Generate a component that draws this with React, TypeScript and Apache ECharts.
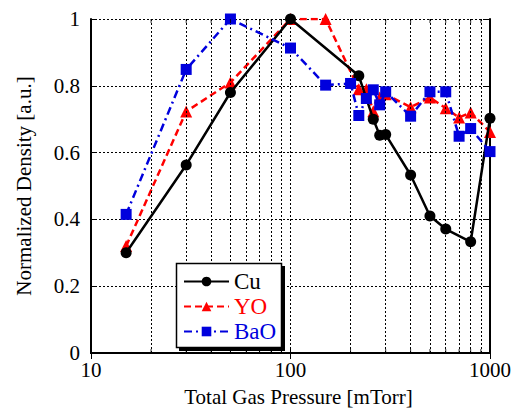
import React, { useEffect, useRef } from "react";
import * as echarts from "echarts";

const pressureCu = [15, 30, 50, 100, 220, 260, 280, 300, 400, 500, 600, 800, 1000];
const densityCu = [0.3, 0.563, 0.78, 1.0, 0.83, 0.7, 0.652, 0.654, 0.533, 0.41, 0.371, 0.333, 0.703];

const pressureYO = [15, 30, 50, 100, 150, 220, 240, 260, 280, 300, 400, 500, 600, 700, 800, 1000];
const densityYO = [0.32, 0.723, 0.81, 1.0, 1.0, 0.79, 0.79, 0.724, 0.765, 0.775, 0.736, 0.765, 0.733, 0.705, 0.72, 0.662];

const pressureBaO = [15, 30, 50, 100, 150, 200, 220, 240, 260, 280, 300, 400, 500, 600, 700, 800, 1000];
const densityBaO = [0.415, 0.849, 1.0, 0.913, 0.802, 0.807, 0.711, 0.762, 0.788, 0.743, 0.782, 0.709, 0.782, 0.782, 0.649, 0.672, 0.603];

const minorGridX = [20, 30, 40, 50, 60, 70, 80, 90, 200, 300, 400, 500, 600, 700, 800, 900];

const seriesNames = ["Cu", "YO", "BaO"];
const seriesColors = ["#000000", "#ff0000", "#0000dd"];

const FONT = "Liberation Serif";

function zip(xs: number[], ys: number[]) {
  return xs.map((x, i) => [x, ys[i]]);
}

export default function App() {
  const ref = useRef<HTMLDivElement>(null);
  useEffect(() => {
    if (!ref.current) return;
    const chart = echarts.init(ref.current, null, { renderer: "svg" });
    const gridDash = { color: "#000", width: 1, type: [2, 2] as any };
    const option: any = {
      animation: false,
      backgroundColor: "#fff",
      grid: { left: 91, right: 23, top: 19, bottom: 55, containLabel: false },
      graphic: [
        {
          type: "rect",
          z: 5,
          shape: { x: 179, y: 266, width: 106, height: 85 },
          style: { fill: "#000" },
        },
        {
          type: "rect",
          z: 6,
          shape: { x: 176.5, y: 263.5, width: 105, height: 84 },
          style: { fill: "#fff", stroke: "#000", lineWidth: 1.5 },
        },
      ],
      xAxis: [
        {
          type: "log",
          logBase: 10,
          min: 10,
          max: 1000,
          name: "Total Gas Pressure [mTorr]",
          nameLocation: "middle",
          nameGap: 33,
          nameTextStyle: { fontFamily: FONT, fontSize: 21, color: "#000", padding: [0, 0, 0, 16] },
          axisLine: { show: true, lineStyle: { color: "#000", width: 2 } },
          axisTick: { show: true, inside: true, length: 6, lineStyle: { color: "#000", width: 1 } },
          axisLabel: {
            fontFamily: FONT,
            fontSize: 21,
            color: "#000",
            margin: 6,
            formatter: (v: number) => String(Math.round(v)),
          },
          splitLine: { show: true, lineStyle: gridDash },
        },
        {
          type: "log",
          logBase: 10,
          min: 10,
          max: 1000,
          position: "top",
          axisLine: { show: true, lineStyle: { color: "#000", width: 2 } },
          axisTick: { show: true, inside: true, length: 6, lineStyle: { color: "#000", width: 1 } },
          axisLabel: { show: false },
          splitLine: { show: false },
        },
      ],
      yAxis: [
        {
          type: "value",
          min: 0,
          max: 1,
          interval: 0.2,
          name: "Normalized Density [a.u.]",
          nameLocation: "middle",
          nameGap: 57,
          nameTextStyle: { fontFamily: FONT, fontSize: 21, color: "#000" },
          axisLine: { show: true, lineStyle: { color: "#000", width: 2 } },
          axisTick: { show: true, inside: true, length: 6, lineStyle: { color: "#000", width: 1 } },
          axisLabel: { fontFamily: FONT, fontSize: 21, color: "#000", margin: 11 },
          splitLine: { show: true, lineStyle: gridDash },
        },
        {
          type: "value",
          min: 0,
          max: 1,
          interval: 0.2,
          position: "right",
          axisLine: { show: true, lineStyle: { color: "#000", width: 2 } },
          axisTick: { show: true, inside: true, length: 6, lineStyle: { color: "#000", width: 1 } },
          axisLabel: { show: false },
          splitLine: { show: false },
        },
      ],
      legend: {
        data: seriesNames.map((n, i) => ({ name: n, textStyle: { color: seriesColors[i] } })),
        orient: "vertical",
        left: 176,
        top: 264,
        z: 20,
        itemWidth: 45,
        itemHeight: 12,
        itemGap: 2,
        padding: [6, 9, 6, 7],
        textStyle: { fontFamily: FONT, fontSize: 23 },
      },
      series: [
        {
          name: "grid",
          type: "line",
          data: [],
          z: 1,
          silent: true,
          markLine: {
            silent: true,
            symbol: "none",
            label: { show: false },
            lineStyle: { color: "#000", width: 1, type: [2, 2] },
            data: minorGridX.map((v) => ({ xAxis: v })),
          },
        },
        {
          name: "minorTicksBottom",
          type: "scatter",
          data: minorGridX.map((v) => [v, 0]),
          symbol: "rect",
          symbolSize: [1, 4],
          symbolOffset: [0, -2],
          itemStyle: { color: "#000" },
          silent: true,
          z: 6,
        },
        {
          name: "minorTicksTop",
          type: "scatter",
          data: minorGridX.map((v) => [v, 1]),
          symbol: "rect",
          symbolSize: [1, 4],
          symbolOffset: [0, 2],
          itemStyle: { color: "#000" },
          silent: true,
          z: 6,
        },
        {
          name: "Cu",
          type: "line",
          data: zip(pressureCu, densityCu),
          symbol: "circle",
          symbolSize: 11,
          z: 4,
          lineStyle: { color: seriesColors[0], width: 2.5 },
          itemStyle: { color: seriesColors[0] },
        },
        {
          name: "YO",
          type: "line",
          data: zip(pressureYO, densityYO),
          symbol: "triangle",
          symbolSize: 12,
          z: 3,
          lineStyle: { color: seriesColors[1], width: 2.5, type: [7, 4] },
          itemStyle: { color: seriesColors[1] },
        },
        {
          name: "BaO",
          type: "line",
          data: zip(pressureBaO, densityBaO),
          symbol: "rect",
          symbolSize: 11,
          z: 5,
          lineStyle: { color: seriesColors[2], width: 2.5, type: [8, 4, 2, 4] },
          itemStyle: { color: seriesColors[2] },
        },
      ],
    };
    chart.setOption(option);
    return () => chart.dispose();
  }, []);
  return <div ref={ref} style={{ width: 514, height: 412, position: "absolute", left: 0, top: 0 }} />;
}
